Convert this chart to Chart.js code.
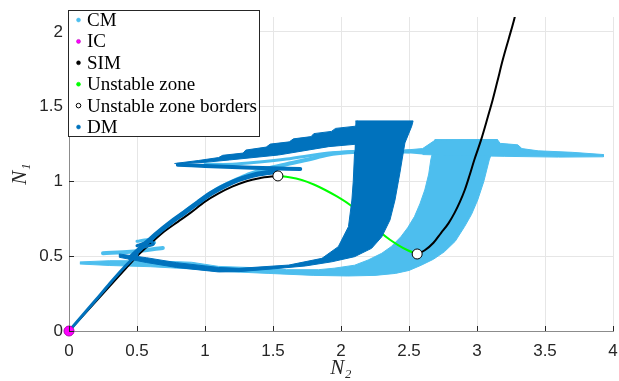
<!DOCTYPE html>
<html>
<head>
<meta charset="utf-8">
<script src="https://cdn.jsdelivr.net/npm/chart.js@4.4.1/dist/chart.umd.min.js"></script>
<style>
html, body { margin: 0; padding: 0; background: #fff; }
#chart { display: block; }
</style>
</head>
<body>
<canvas id="chart" width="619" height="381"></canvas>
<script>
// N2 / N1 phase plane: CM, DM clouds + SIM curve

// tick labels
var xTicks = [0, 0.5, 1, 1.5, 2, 2.5, 3, 3.5, 4];
var yTicks = [0, 0.5, 1, 1.5, 2];

var legendLabels = ['CM', 'IC', 'SIM', 'Unstable zone', 'Unstable zone borders', 'DM'];

// initial condition
var icPoint = [[0, 0]];

// slow invariant manifold, stable branches
var simLower = [[0,0],[0.1,0.1],[0.2,0.2],[0.3,0.3],[0.4,0.4],[0.5,0.5],[0.6,0.585],[0.7,0.665],[0.8,0.73],
    [0.9,0.795],[1.0,0.865],[1.1,0.92],[1.2,0.965],[1.3,1.0],[1.4,1.022],[1.5,1.034],[1.536,1.037]];
var simUpper = [[2.56,0.515],[2.616,0.54],[2.68,0.59],[2.735,0.655],[2.79,0.72],[2.835,0.79],[2.875,0.865],
    [2.91,0.943],[2.945,1.04],[2.98,1.144],[3.03,1.278],[3.08,1.433],[3.115,1.545],[3.15,1.67],[3.19,1.815],
    [3.235,1.96],[3.276,2.094],[3.28,2.11]];

// unstable part of the SIM
var unstableZone = [[1.536,1.037],[1.62,1.028],[1.711,1.01],[1.8,0.98],[1.884,0.943],[1.97,0.9],[2.067,0.843],
    [2.13,0.795],[2.2,0.742],[2.25,0.7],[2.297,0.655],[2.36,0.61],[2.42,0.575],[2.49,0.54],[2.56,0.515]];
var unstableBorders = [[1.536,1.037],[2.56,0.515]];

// CM cloud (outlines)
var cmLowerShape = [[0.08,0.448],[0.3,0.438],[0.6,0.43],[0.9,0.415],[1.1,0.4],[1.47,0.385],[1.8,0.372],[2.05,0.368],
    [2.25,0.372],[2.4,0.385],[2.5,0.405],[2.59,0.44],[2.68,0.48],[2.76,0.53],[2.84,0.6],[2.91,0.7],[2.96,0.78],
    [3.005,0.876],[3.05,1.0],[3.09,1.144],[3.12,1.22],[3.15,1.28],[2.69,1.28],[2.675,1.2],[2.66,1.144],
    [2.645,1.05],[2.616,0.943],[2.58,0.85],[2.54,0.765],[2.49,0.69],[2.44,0.63],[2.37,0.565],[2.3,0.52],
    [2.2,0.475],[2.1,0.44],[1.95,0.42],[1.835,0.41],[1.6,0.41],[1.47,0.42],[1.1,0.432],[0.9,0.46],
    [0.6,0.47],[0.3,0.47],[0.08,0.462]];
var cmRightStreak = [[2.47,1.19],[2.47,1.21],[2.6,1.22],[2.69,1.275],[3.15,1.28],[3.17,1.255],[3.3,1.245],
    [3.33,1.22],[3.45,1.205],[3.7,1.195],[3.93,1.18],[3.93,1.165],[3.6,1.163],[3.2,1.168],[2.8,1.175],[2.6,1.18]];
var cmSimBand = [[0.5,0.53],[0.6,0.61],[0.7,0.69],[0.8,0.76],[0.9,0.83],[1.0,0.895],[1.1,0.955],[1.2,1.0],
    [1.3,1.04],[1.4,1.07],[1.5,1.095],[1.6,1.115],[1.75,1.145],[1.91,1.18],[2.05,1.195],[2.2,1.2],[2.5,1.2]];
var cmMidStreak = [[1.0,1.115],[1.2,1.115],[1.4,1.13],[1.6,1.15],[1.91,1.19],[2.1,1.2]];
var cmSmallStreak = [[0.25,0.52],[0.45,0.53],[0.69,0.555]];
var cmLoop = [[0.5,0.6],[0.58,0.61],[0.63,0.59],[0.56,0.575]];

// DM cloud
var dmTrapShape = [[2.106,1.405],[2.53,1.405],[2.52,1.37],[2.47,1.258],[2.45,1.15],[2.433,1.057],[2.397,0.876],
    [2.36,0.742],[2.3,0.63],[2.225,0.553],[2.1,0.497],[1.933,0.463],[1.738,0.435],[1.494,0.415],[1.25,0.397],
    [1.1,0.395],[0.79,0.425],[0.57,0.458],[0.37,0.493],[0.37,0.515],[0.57,0.49],[0.79,0.457],[1.1,0.425],
    [1.25,0.419],[1.616,0.441],[1.86,0.486],[1.98,0.564],[2.055,0.698],[2.08,0.876],[2.09,1.0],[2.1,1.2]];
var dmStairShape = [[0.775,1.12],[0.95,1.14],[1.1,1.16],[1.13,1.175],[1.28,1.19],[1.3,1.21],[1.45,1.23],
    [1.48,1.25],[1.62,1.265],[1.65,1.285],[1.78,1.3],[1.8,1.32],[1.93,1.335],[1.96,1.355],[2.11,1.37],
    [2.12,1.405],[2.12,1.25],[1.91,1.233],[1.54,1.177],[1.18,1.144],[1.0,1.128],[0.85,1.122]];
var dmStreak = [[0.8,1.112],[1.0,1.104],[1.2,1.097],[1.5,1.088],[1.7,1.083]];
var dmSimBand = [[0.45,0.49],[0.55,0.573],[0.65,0.655],[0.75,0.728],[0.85,0.793],[0.95,0.86],[1.05,0.923],
    [1.15,0.973],[1.25,1.013],[1.35,1.041],[1.45,1.058],[1.52,1.066]];
var dmOriginLine = [[0,0],[0.1,0.105],[0.2,0.21],[0.3,0.318],[0.4,0.42],[0.5,0.51]];
var dmLoop = [[0.5,0.57],[0.6,0.6],[0.62,0.58],[0.52,0.555]];

var CM_COLOR = '#4DBEEE';
var DM_COLOR = '#0072BD';
var TICK_FONT = '17px "Liberation Sans"';

function pts(arr) {
    return arr.map(function (p) { return {x: p[0], y: p[1]}; });
}
function shape(arr, color) {
    return {data: pts(arr), showLine: true, fill: 'shape', backgroundColor: color, borderColor: color,
        borderWidth: 1, pointRadius: 0, tension: 0};
}
function band(arr, color, w, smooth) {
    var d = {data: pts(arr), showLine: true, fill: false, borderColor: color, borderWidth: w,
        borderCapStyle: 'round', borderJoinStyle: 'round', pointRadius: 0, tension: 0.3};
    if (smooth) { d.cubicInterpolationMode = 'monotone'; }
    return d;
}

// first dataset is drawn on top
var datasets = [
    {data: pts(icPoint), showLine: false, clip: 6, pointRadius: 5, pointBackgroundColor: '#FF00FF',
        pointBorderColor: '#B000B0', pointBorderWidth: 1},
    {data: pts(unstableBorders), showLine: false, pointRadius: 5, pointBackgroundColor: '#ffffff',
        pointBorderColor: '#000000', pointBorderWidth: 1},
    band(dmLoop, DM_COLOR, 3),
    band(dmOriginLine, DM_COLOR, 3, true),
    band(dmSimBand, DM_COLOR, 5, true),
    band(dmStreak, DM_COLOR, 4),
    shape(dmStairShape, DM_COLOR),
    shape(dmTrapShape, DM_COLOR),
    band(unstableZone, '#00FF00', 2, true),
    band(simLower, '#000000', 2, true),
    band(simUpper, '#000000', 2, true),
    band(cmMidStreak, CM_COLOR, 3),
    band(cmSimBand, CM_COLOR, 4, true),
    band(cmSmallStreak, CM_COLOR, 4),
    band(cmLoop, CM_COLOR, 3),
    shape(cmRightStreak, CM_COLOR),
    shape(cmLowerShape, CM_COLOR)
];

var legendColors = [
    {fill: CM_COLOR, stroke: CM_COLOR},
    {fill: '#FF00FF', stroke: '#B000B0'},
    {fill: '#000000', stroke: '#000000'},
    {fill: '#00FF00', stroke: '#00FF00'},
    {fill: '#ffffff', stroke: '#000000'},
    {fill: DM_COLOR, stroke: DM_COLOR}
];

// inward tick marks, boxed legend, x tick labels (matlab look)
var matlabBits = {
    id: 'matlabBits',
    afterDraw: function (chart) {
        var ctx = chart.ctx;
        var a = chart.chartArea;
        ctx.save();
        ctx.strokeStyle = '#262626';
        ctx.lineWidth = 1;
        ctx.beginPath();
        xTicks.forEach(function (v) {
            var px = Math.round(chart.scales.x.getPixelForValue(v)) + 0.5;
            ctx.moveTo(px, a.bottom);
            ctx.lineTo(px, a.bottom - 5);
        });
        yTicks.forEach(function (v) {
            var py = Math.round(chart.scales.y.getPixelForValue(v)) + 0.5;
            ctx.moveTo(a.left, py);
            ctx.lineTo(a.left + 5, py);
        });
        ctx.stroke();

        // legend
        var bx = 68.5, by = 10.5, bw = 191, bh = 126;
        ctx.fillStyle = '#ffffff';
        ctx.fillRect(bx, by, bw, bh);
        ctx.strokeStyle = '#262626';
        ctx.strokeRect(bx, by, bw, bh);
        var size = 18;
        ctx.font = size + 'px "Liberation Serif"';
        size = size * 170 / ctx.measureText('Unstable zone borders').width;
        ctx.font = size.toFixed(2) + 'px "Liberation Serif"';
        ctx.textBaseline = 'middle';
        ctx.textAlign = 'left';
        legendLabels.forEach(function (lab, i) {
            var cy = 20 + i * 21.4;
            ctx.beginPath();
            ctx.arc(78.5, cy, i === 4 ? 2.3 : 2, 0, Math.PI * 2);
            ctx.fillStyle = legendColors[i].fill;
            ctx.fill();
            ctx.strokeStyle = legendColors[i].stroke;
            ctx.lineWidth = i === 4 ? 1 : 0.5;
            ctx.stroke();
            ctx.fillStyle = '#000000';
            ctx.fillText(lab, 87, cy + 1);
        });

        // x tick labels, last one runs off the edge like the original
        ctx.font = TICK_FONT;
        ctx.fillStyle = '#262626';
        ctx.textAlign = 'left';
        ctx.textBaseline = 'alphabetic';
        xTicks.forEach(function (v) {
            var lab = String(v);
            var w = ctx.measureText(lab).width;
            ctx.fillText(lab, chart.scales.x.getPixelForValue(v) - w / 2, a.bottom + 25);
        });
        ctx.restore();
    }
};

function plainLabel(v) { return String(v); }

var canvas = document.getElementById('chart').getContext('2d');
window.phase = new Chart(canvas, {
    type: 'line',
    data: {datasets: datasets},
    options: {
        responsive: false,
        animation: false,
        events: [],
        layout: {padding: {top: 17, right: 1, left: 0, bottom: 0}},
        plugins: {legend: {display: false}, tooltip: {enabled: false}},
        scales: {
            x: {
                type: 'linear', min: 0, max: 4,
                afterFit: function (s) { s.height = 50; s.paddingLeft = 0; s.paddingRight = 0; },
                afterBuildTicks: function (s) { s.ticks = xTicks.map(function (v) { return {value: v}; }); },
                ticks: {display: false},
                grid: {color: '#e6e6e6', drawTicks: false},
                border: {color: '#8c8c8c'},
                title: {display: true, text: 'N₂', color: '#262626', padding: {top: 0, bottom: 0},
                    font: {family: '"Liberation Serif"', style: 'italic', size: 21}}
            },
            y: {
                type: 'linear', min: 0, max: 2.1,
                afterFit: function (s) { s.width = 69; s.paddingTop = 0; s.paddingBottom = 0; },
                afterBuildTicks: function (s) { s.ticks = yTicks.map(function (v) { return {value: v}; }); },
                ticks: {font: {family: '"Liberation Sans", Arial', size: 17}, color: '#262626',
                    padding: 6, autoSkip: false, includeBounds: false, callback: plainLabel},
                grid: {color: '#e6e6e6', drawTicks: false},
                border: {color: '#8c8c8c'},
                title: {display: true, text: 'N₁', color: '#262626', padding: {top: 8, bottom: 0},
                    font: {family: '"Liberation Serif"', style: 'italic', size: 21}}
            }
        }
    },
    plugins: [matlabBits]
});
</script>
</body>
</html>
